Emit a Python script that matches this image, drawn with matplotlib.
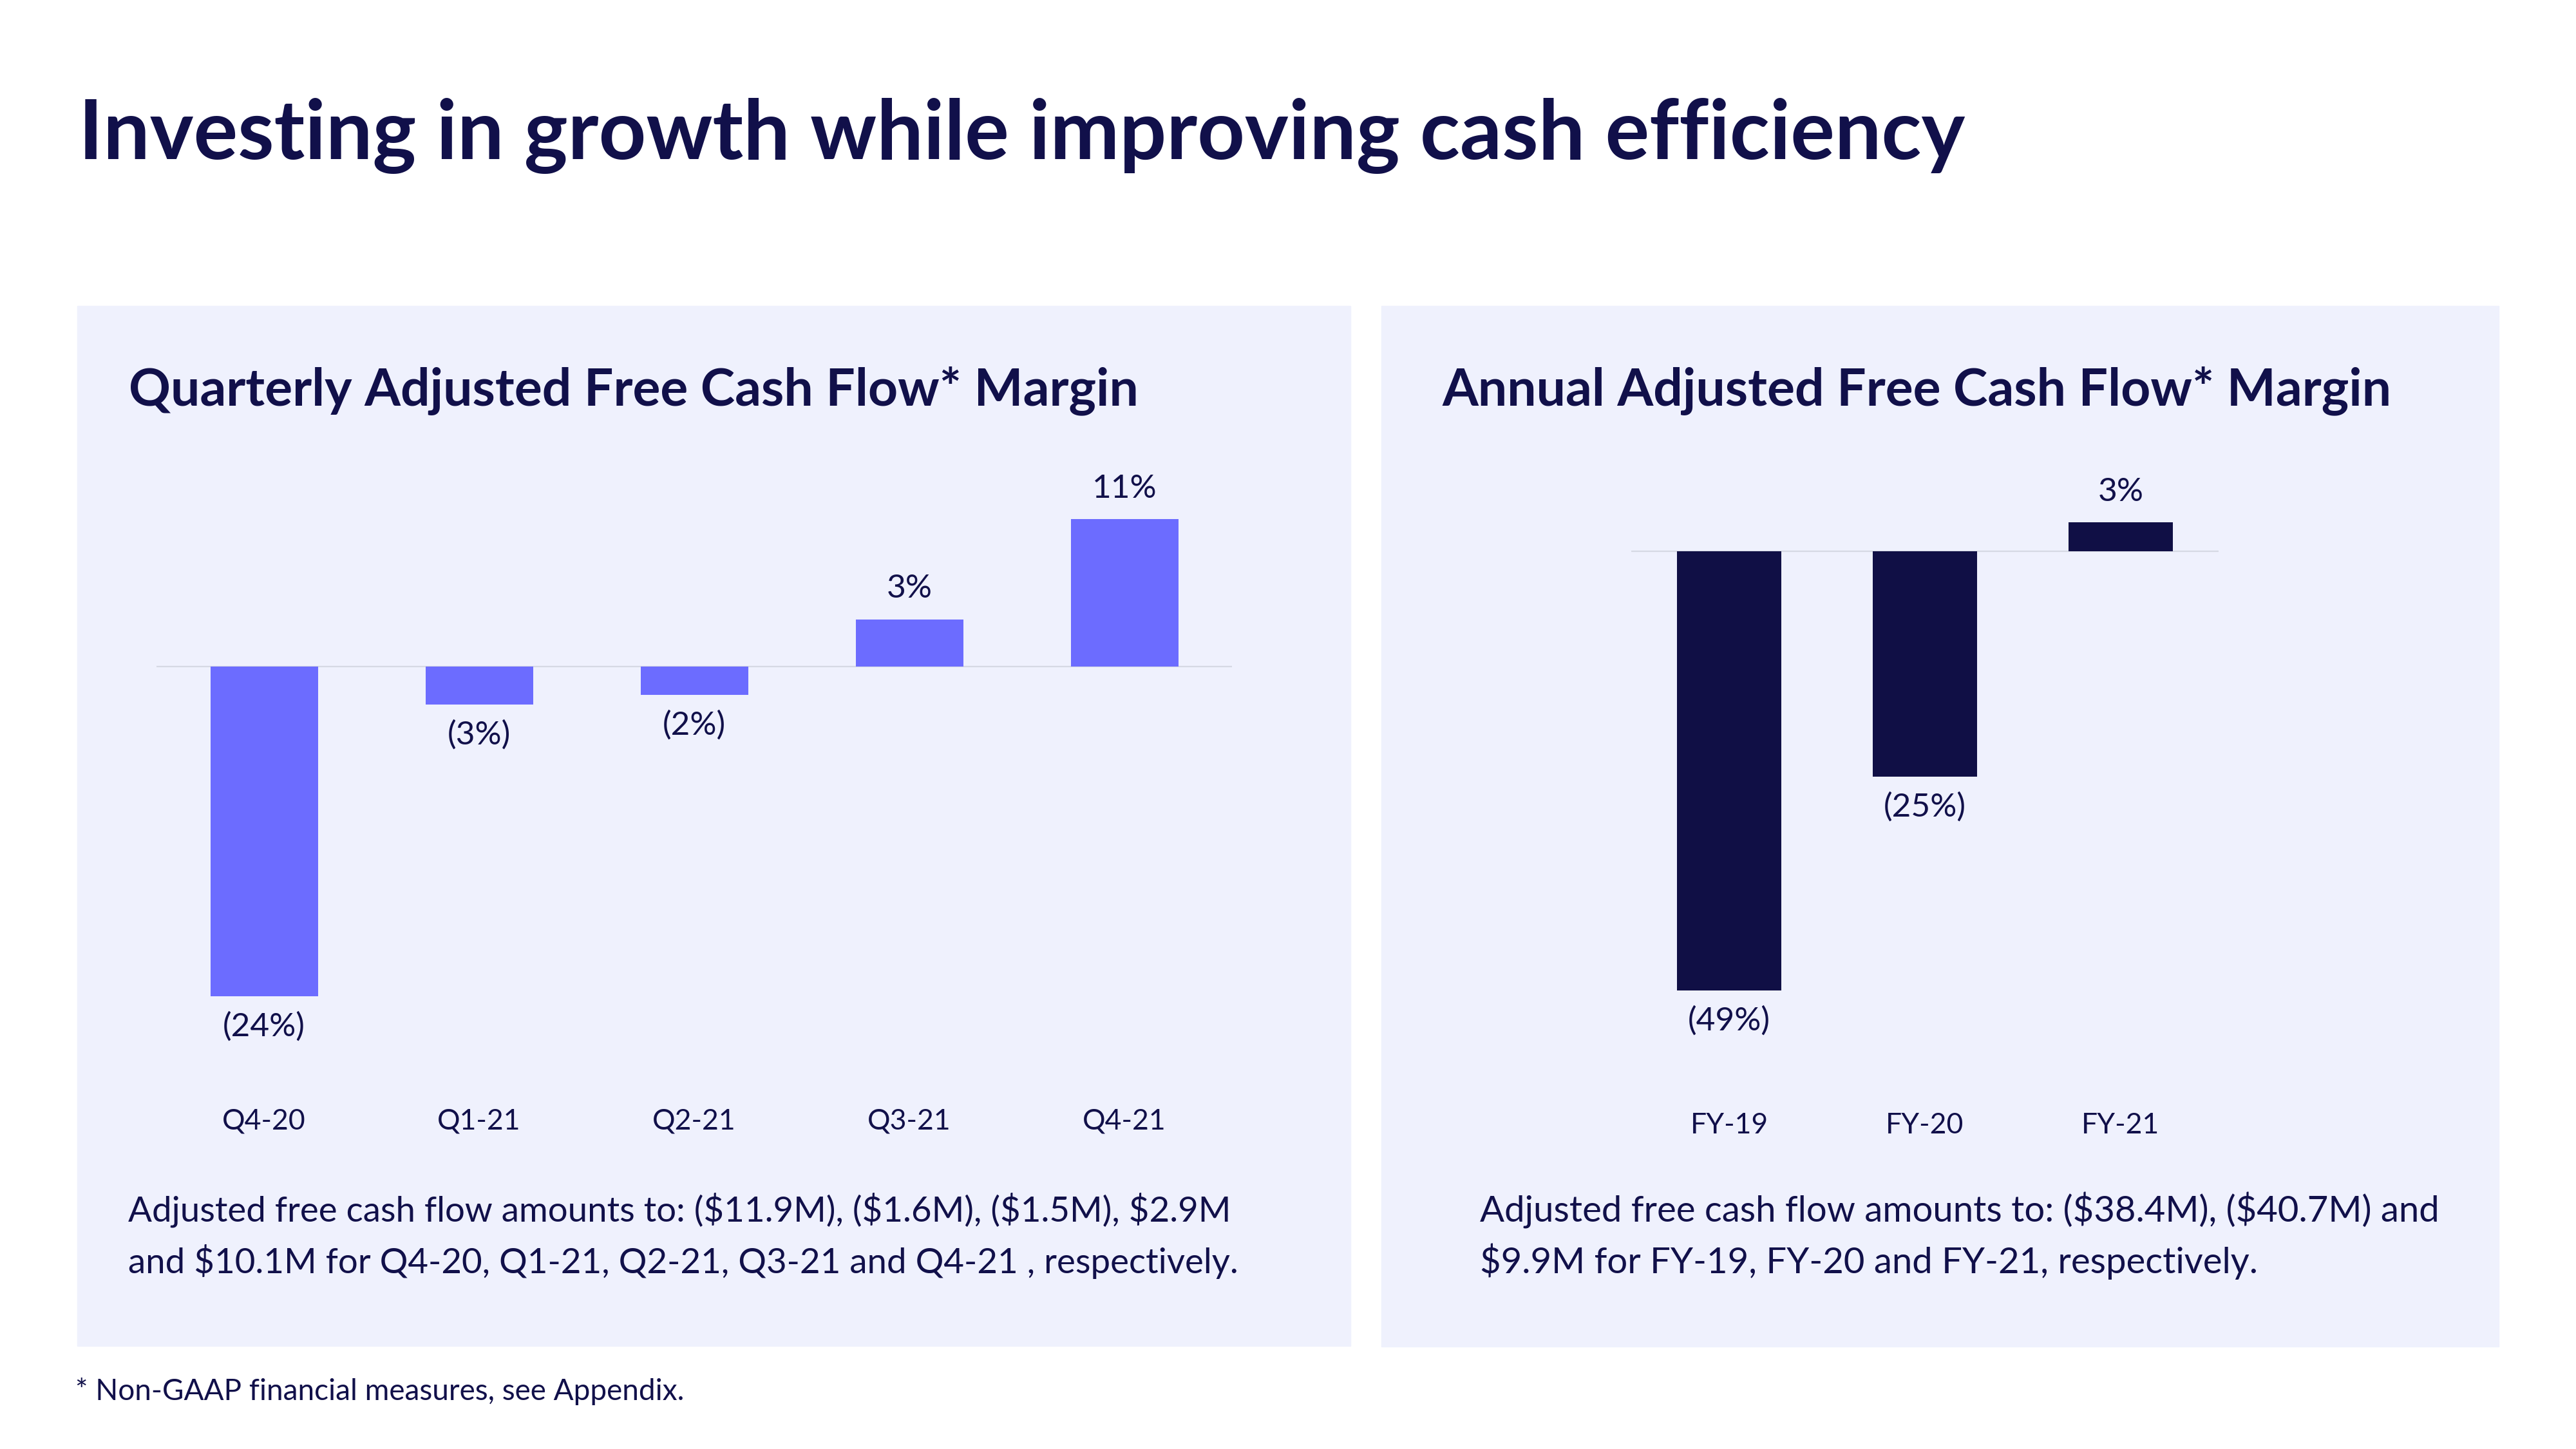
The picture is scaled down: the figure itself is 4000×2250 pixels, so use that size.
import matplotlib

matplotlib.use("Agg")
import matplotlib.pyplot as plt
from matplotlib.patches import Rectangle

# data
quarters = ["Q4-20", "Q1-21", "Q2-21", "Q3-21", "Q4-21"]
quarter_margin = [-24.4, -2.8, -2.1, 3.5, 10.9]
quarter_labels = ["(24%)", "(3%)", "(2%)", "3%", "11%"]

years = ["FY-19", "FY-20", "FY-21"]
year_margin = [-48.9, -25.1, 3.2]
year_labels = ["(49%)", "(25%)", "3%"]

title = "Investing in growth while improving cash efficiency"
left_title = "Quarterly Adjusted Free Cash Flow* Margin"
right_title = "Annual Adjusted Free Cash Flow* Margin"
left_note = ["Adjusted free cash flow amounts to: ($11.9M), ($1.6M), ($1.5M), $2.9M",
             "and $10.1M for Q4-20, Q1-21, Q2-21, Q3-21 and Q4-21 , respectively."]
right_note = ["Adjusted free cash flow amounts to: ($38.4M), ($40.7M) and",
              "$9.9M for FY-19, FY-20 and FY-21, respectively."]
footnote = "* Non-GAAP financial measures, see Appendix."

NAVY = "#11104A"
BAR_DARK = "#100F45"
BAR_LIGHT = "#6C6CFF"
PANEL = "#EFF1FD"
ZERO = "#D6D9E4"

plt.rcParams["font.family"] = ["Lato", "DejaVu Sans"]
plt.rcParams["text.parse_math"] = False

W, H = 4000, 2250
fig = plt.figure(figsize=(W / 100, H / 100), dpi=100)


def fx(px):
    return px / W


def fy(py):
    return 1 - py / H


def panel(x0, y0, x1, y1):
    fig.patches.append(Rectangle((fx(x0), fy(y1)), fx(x1 - x0), (y1 - y0) / H,
                                 transform=fig.transFigure, color=PANEL, zorder=-5))


panel(120, 475, 2097, 2090)
panel(2145, 475, 3880, 2091)

fig.text(fx(122), fy(247), title, fontsize=92.5, fontweight="bold", color=NAVY, va="baseline")
fig.text(fx(200), fy(629), left_title, fontsize=58, fontweight="bold", color=NAVY, va="baseline")
fig.text(fx(2239), fy(629), right_title, fontsize=58, fontweight="bold", color=NAVY, va="baseline")

for i, line in enumerate(left_note):
    fig.text(fx(199), fy(1897 + 80 * i), line, fontsize=39.3, color=NAVY, va="baseline")
for i, line in enumerate(right_note):
    fig.text(fx(2298), fy(1897 + 80 * i), line, fontsize=40.5, color=NAVY, va="baseline")
fig.text(fx(117), fy(2174), footnote, fontsize=33, color=NAVY, va="baseline")


def bar_chart(left_px, width_px, cats, vals, labels, color, zero_px, px_per_unit, bar_w, pad):
    top_px, bot_px = 700, 1690
    ax = fig.add_axes([fx(left_px), fy(bot_px), fx(width_px), (bot_px - top_px) / H])
    ax.set_facecolor("none")
    x = list(range(len(cats)))
    ax.bar(x, vals, width=bar_w, color=color, zorder=2)
    ax.axhline(0, color=ZERO, lw=1.6, zorder=1)
    ax.set_xlim(-0.5, len(cats) - 0.5)
    ax.set_ylim(-(bot_px - zero_px) / px_per_unit, (zero_px - top_px) / px_per_unit)
    ax.set_xticks(x, cats)
    ax.tick_params(axis="x", length=0, pad=pad, labelsize=32, labelcolor=NAVY)
    ax.set_yticks([])
    for s in ax.spines.values():
        s.set_visible(False)
    for xi, v, lab in zip(x, vals, labels):
        off = 34 if v >= 0 else -34
        ax.annotate(lab, (xi, v), xytext=(0, off), textcoords="offset points",
                    ha="center", va="center", fontsize=37, color=NAVY)
    return ax


bar_chart(243, 1670, quarters, quarter_margin, quarter_labels, BAR_LIGHT, 1035, 21.0, 0.5, 22)
bar_chart(2533, 912, years, year_margin, year_labels, BAR_DARK, 856, 13.95, 0.53, 27)

fig.savefig("out.png", dpi=100)
